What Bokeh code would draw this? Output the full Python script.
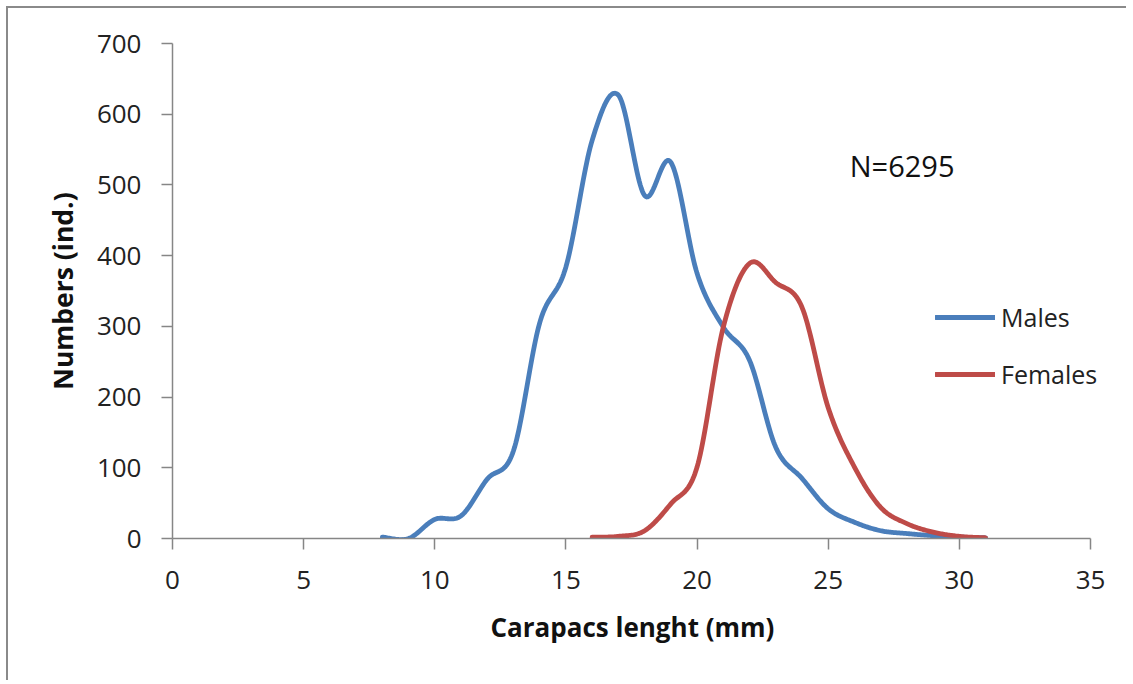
import numpy as np
from bokeh.plotting import figure
from bokeh.models import Legend, LegendItem, Label, FixedTicker, Range1d, Title
from bokeh.embed import file_html
from bokeh.resources import INLINE

# ---- data ----
male_x = [8, 9, 10, 11, 12, 13, 14, 15, 16, 17, 18, 19, 20, 21, 22, 23, 24, 25, 26, 27, 28, 29, 30, 31]
male_y = [2, 0, 27, 32, 84, 124, 305, 384, 563, 627, 485, 532, 375, 299, 252, 129, 85, 42, 23, 11, 7, 4, 2, 1]
female_x = [16, 17, 18, 19, 20, 21, 22, 23, 24, 25, 26, 27, 28, 29, 30, 31]
female_y = [2, 3, 11, 49, 101, 299, 389, 362, 327, 185, 101, 44, 21, 9, 3, 1]
x_ticks = [0, 5, 10, 15, 20, 25, 30, 35]
y_ticks = [0, 100, 200, 300, 400, 500, 600, 700]
series_names = ["Males", "Females"]
x_title = "Carapacs lenght (mm)"
y_title = "Numbers (ind.)"
annotation_text = "N=6295"

BLUE = "#4A7EBB"
RED = "#BE4B48"
FONT = "Open Sans"


def smooth(xs, ys, n=24):
    """Excel-like smoothed line (Catmull-Rom / Bezier with 1/6 tension)."""
    P = np.column_stack([np.asarray(xs, float), np.asarray(ys, float)])
    out = []
    m = len(P)
    for i in range(m - 1):
        p0 = P[i - 1] if i > 0 else P[i]
        p1 = P[i]
        p2 = P[i + 1]
        p3 = P[i + 2] if i + 2 < m else P[i + 1]
        c1 = p1 + (p2 - p0) / 6.0
        c2 = p2 - (p3 - p1) / 6.0
        t = np.linspace(0, 1, n, endpoint=(i == m - 2))[:, None]
        b = ((1 - t) ** 3) * p1 + 3 * ((1 - t) ** 2) * t * c1 + 3 * (1 - t) * t ** 2 * c2 + t ** 3 * p2
        out.append(b)
    out = np.vstack(out)
    return out[:, 0], out[:, 1]


# axis drawn from 0 to 35, frame extended a little to the right so the legend fits
x_end = 35 * 944 / 918.0

p = figure(width=1120, height=674, output_backend="svg", toolbar_location=None,
           x_range=Range1d(0, x_end), y_range=Range1d(0, 700),
           min_border_left=164, min_border_right=12, min_border_top=35, min_border_bottom=144)
p.styles = {"border-left": "2px solid #8a8a8a", "border-top": "2px solid #8a8a8a",
            "margin-left": "6px", "margin-top": "6px"}
p.outline_line_color = None
p.xgrid.visible = False
p.ygrid.visible = False
p.background_fill_color = "white"
p.border_fill_color = "white"

mx, my = smooth(male_x, male_y)
fx, fy = smooth(female_x, female_y)
r_m = p.line(mx, my, line_color=BLUE, line_width=4.8, line_cap="round", line_join="round")
r_f = p.line(fx, fy, line_color=RED, line_width=4.8, line_cap="round", line_join="round")

for ax in (p.xaxis[0], p.yaxis[0]):
    ax.axis_line_color = "#868686"
    ax.axis_line_width = 1.5
    ax.major_tick_line_color = "#868686"
    ax.major_tick_line_width = 1.5
    ax.major_tick_in = 0
    ax.major_tick_out = 11
    ax.minor_tick_line_color = None
    ax.major_label_text_font = FONT
    ax.major_label_text_font_size = "26px"
    ax.major_label_text_color = "#222222"
    ax.axis_label_text_font = FONT
    ax.axis_label_text_font_size = "26.5px"
    ax.axis_label_text_font_style = "bold"
    ax.axis_label_text_color = "#111111"

p.xaxis.bounds = (0, 35)
p.xaxis.ticker = FixedTicker(ticks=x_ticks)
p.yaxis.ticker = FixedTicker(ticks=y_ticks)
p.yaxis.axis_label = y_title
p.xaxis.major_label_standoff = 21
p.yaxis.major_label_standoff = 20
p.yaxis.axis_label_standoff = 13

# x-axis title centred under the 0..35 axis (not under the widened frame)
xt = Title(text=x_title, align="left", offset=318, text_font=FONT, text_font_size="26px",
           text_font_style="bold", text_color="#111111", standoff=30)
p.add_layout(xt, "below")

legend = Legend(items=[LegendItem(label=series_names[0], renderers=[r_m]),
                       LegendItem(label=series_names[1], renderers=[r_f])],
                location=(763, 147), orientation="vertical")
legend.border_line_color = None
legend.background_fill_alpha = 0
legend.padding = 0
legend.margin = 0
legend.spacing = 23
legend.glyph_width = 60
legend.glyph_height = 30
legend.label_height = 30
legend.label_standoff = 6
legend.label_text_font = FONT
legend.label_text_font_size = "25px"
legend.label_text_color = "#222222"
p.add_layout(legend, "center")

p.add_layout(Label(x=25.82, y=527, text=annotation_text, text_font=FONT, text_font_size="29px",
                   text_color="#111111", text_baseline="alphabetic", text_align="left"))

open("out.html", "w").write(file_html(p, INLINE))
